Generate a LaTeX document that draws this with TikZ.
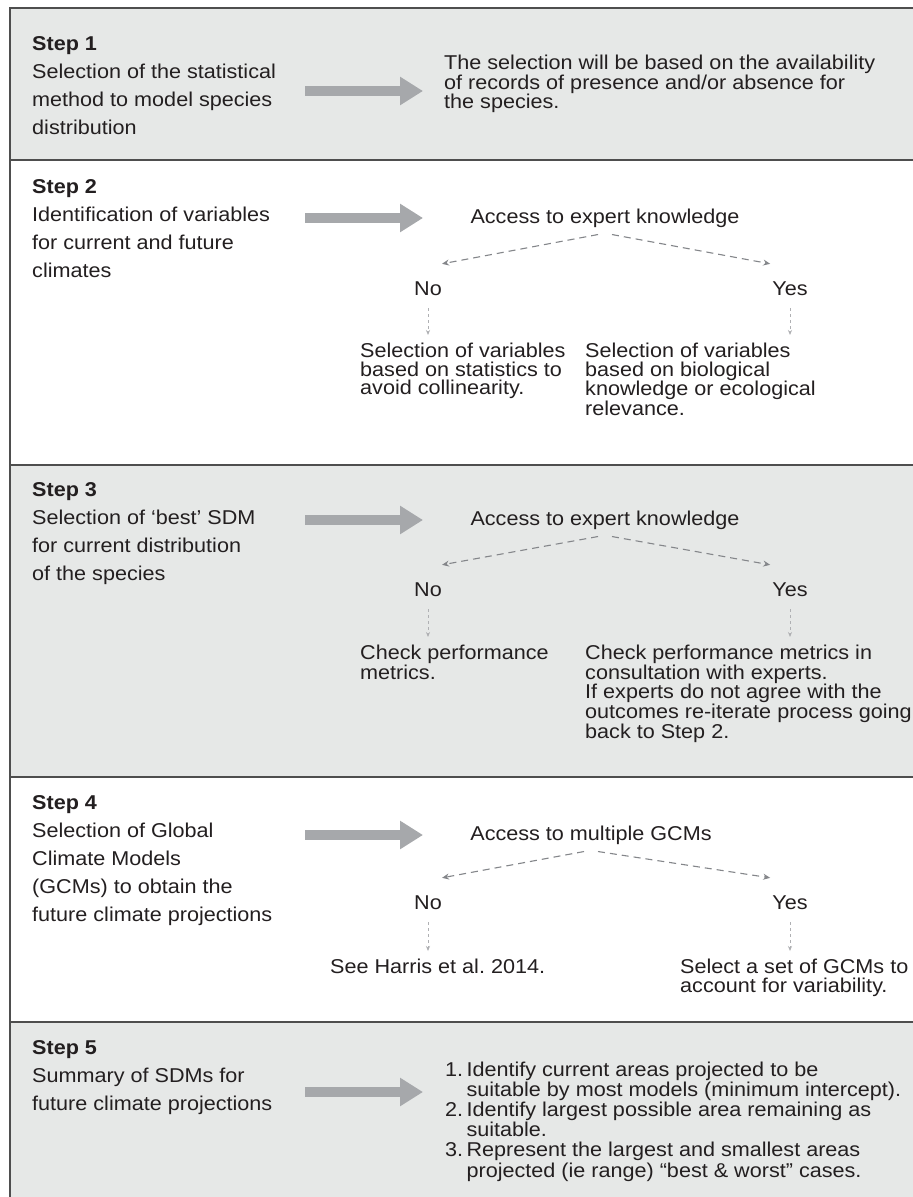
\documentclass[tikz,border=0pt]{standalone}
\usepackage{fontspec}
\setmainfont{Liberation Sans}[FakeStretch=1.08]
\usetikzlibrary{arrows.meta,positioning}
\definecolor{bandgray}{HTML}{E6E8E7}
\definecolor{rulegray}{HTML}{4E4E4E}
\definecolor{arrowgray}{HTML}{A6A8AB}
\definecolor{dashgray}{HTML}{84868A}
\definecolor{inkgray}{HTML}{231F20}
\frenchspacing
\begin{document}
\begin{tikzpicture}[x=1pt,y=-1pt]
\tikzstyle{steptext}=[anchor=north west,align=left,inner sep=0pt,text=inkgray,font=\fontsize{20}{28}\selectfont]
\tikzstyle{infotext}=[anchor=north west,align=left,inner sep=0pt,text=inkgray,font=\fontsize{20}{18.6}\selectfont]
\tikzstyle{choice}=[inner sep=0pt,text=inkgray,font=\fontsize{20}{20}\selectfont]
\tikzstyle{bigarrow}=[arrowgray,line width=10pt,-{Triangle[length=23pt,width=27pt]}]
\tikzstyle{branch}=[dashgray,dash pattern=on 7pt off 5pt,line width=1.1pt,-{Stealth[length=7pt,width=6pt]}]
\tikzstyle{drop}=[dashgray!65,dash pattern=on 3pt off 3pt,line width=0.8pt,-{Stealth[length=5pt,width=4pt]}]
\useasboundingbox (0,0) rectangle (913,1197);
\fill[white] (0,0) rectangle (913,1197);
% bands
\fill[bandgray] (10,8) rectangle (913,160);
\fill[bandgray] (10,465) rectangle (913,777);
\fill[bandgray] (10,1022) rectangle (913,1197);
\draw[rulegray,line width=2pt] (10,1197) -- (10,8) -- (913,8);
\draw[rulegray,line width=2pt] (10,160) -- (913,160);
\draw[rulegray,line width=2pt] (10,465) -- (913,465);
\draw[rulegray,line width=2pt] (10,777) -- (913,777);
\draw[rulegray,line width=2pt] (10,1022) -- (913,1022);

% step 1
\node[steptext] (s1) at (32,36) {\textbf{Step 1}\\Selection of the statistical\\method to model species\\distribution};
\node[infotext] (r1) at (444,55) {The selection will be based on the availability\\of records of presence and/or absence for\\the species.};
\coordinate (a1s) at (305,91);
\coordinate (a1e) at (423,91);
\draw[bigarrow] (a1s) -- (a1e);

% step 2
\node[steptext] (s2) at (32,179) {\textbf{Step 2}\\Identification of variables\\for current and future\\climates};
\coordinate (a2s) at (305,218);
\coordinate (a2e) at (423,218);
\draw[bigarrow] (a2s) -- (a2e);
\node[choice] (q2) at (605,218) {Access to expert knowledge};
\node[choice] (no2) at (428,289) {No};
\node[choice] (yes2) at (790,289) {Yes};
\node[infotext] (o2n) at (360,343) {Selection of variables\\based on statistics to\\avoid collinearity.};
\node[infotext] (o2y) at (585,343) {Selection of variables\\based on biological\\knowledge or ecological\\relevance.};
\draw[branch] ([xshift=-7pt,yshift=-7pt]q2.south) -- ([xshift=0pt,yshift=18pt]no2.north east);
\draw[branch] ([xshift=7pt,yshift=-7pt]q2.south) -- ([xshift=-2pt,yshift=18pt]yes2.north west);
\draw[drop] ([yshift=-12pt]no2.south) -- ([yshift=8pt]no2.south |- o2n.north);
\draw[drop] ([yshift=-12pt]yes2.south) -- ([yshift=8pt]yes2.south |- o2y.north);

% step 3
\node[steptext] (s3) at (32,482) {\textbf{Step 3}\\Selection of `best' SDM\\for current distribution\\of the species};
\coordinate (a3s) at (305,520);
\coordinate (a3e) at (423,520);
\draw[bigarrow] (a3s) -- (a3e);
\node[choice] (q3) at (605,520) {Access to expert knowledge};
\node[choice] (no3) at (428,590) {No};
\node[choice] (yes3) at (790,590) {Yes};
\node[infotext] (o3n) at (360,645) {Check performance\\metrics.};
\node[infotext] (o3y) at (585,645) {Check performance metrics in\\consultation with experts.\\If experts do not agree with the\\outcomes re-iterate process going\\back to Step 2.};
\draw[branch] ([xshift=-7pt,yshift=-7pt]q3.south) -- ([xshift=0pt,yshift=18pt]no3.north east);
\draw[branch] ([xshift=7pt,yshift=-7pt]q3.south) -- ([xshift=-2pt,yshift=18pt]yes3.north west);
\draw[drop] ([yshift=-12pt]no3.south) -- ([yshift=8pt]no3.south |- o3n.north);
\draw[drop] ([yshift=-12pt]yes3.south) -- ([yshift=8pt]yes3.south |- o3y.north);

% step 4
\node[steptext] (s4) at (32,795) {\textbf{Step 4}\\Selection of Global\\Climate Models\\(GCMs) to obtain the\\future climate projections};
\coordinate (a4s) at (305,835);
\coordinate (a4e) at (423,835);
\draw[bigarrow] (a4s) -- (a4e);
\node[choice] (q4) at (591,835) {Access to multiple GCMs};
\node[choice] (no4) at (428,903) {No};
\node[choice] (yes4) at (790,903) {Yes};
\node[infotext] (o4n) at (330,959) {See Harris et al. 2014.};
\node[infotext] (o4y) at (680,959) {Select a set of GCMs to\\account for variability.};
\draw[branch] ([xshift=-7pt,yshift=-7pt]q4.south) -- ([xshift=0pt,yshift=18pt]no4.north east);
\draw[branch] ([xshift=7pt,yshift=-7pt]q4.south) -- ([xshift=-2pt,yshift=18pt]yes4.north west);
\draw[drop] ([yshift=-12pt]no4.south) -- ([yshift=8pt]no4.south |- o4n.north);
\draw[drop] ([yshift=-12pt]yes4.south) -- ([yshift=8pt]yes4.south |- o4y.north);

% step 5
\node[steptext] (s5) at (32,1040) {\textbf{Step 5}\\Summary of SDMs for\\future climate projections};
\coordinate (a5s) at (305,1092);
\coordinate (a5e) at (423,1092);
\draw[bigarrow] (a5s) -- (a5e);
\node[infotext] (r5) at (445,1062) {\begin{tabular}{@{}l@{\,}l@{}}1.&Identify current areas projected to be\\&suitable by most models (minimum intercept).\\2.&Identify largest possible area remaining as\\&suitable.\\3.&Represent the largest and smallest areas\\&projected (ie range) “best \& worst” cases.\end{tabular}};
\end{tikzpicture}
\end{document}
